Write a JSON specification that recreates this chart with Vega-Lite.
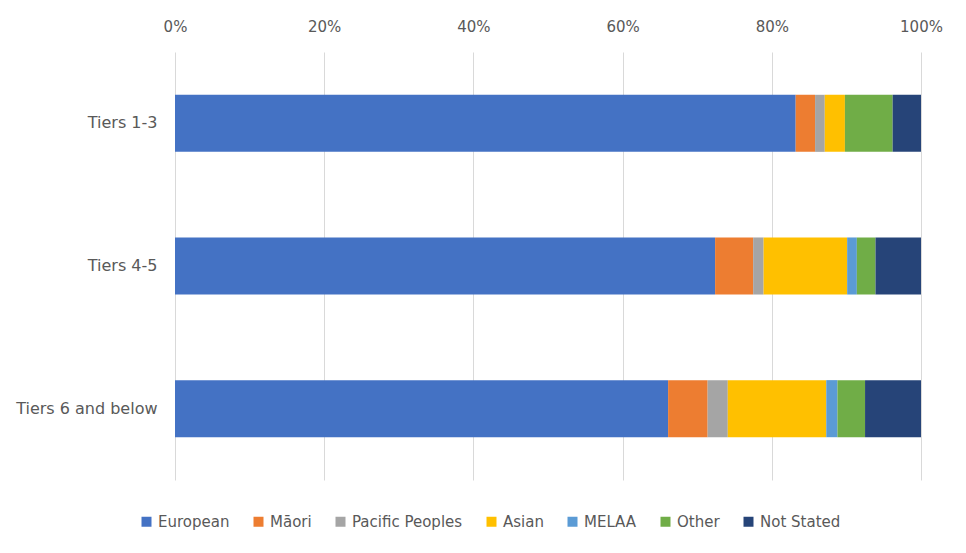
{
  "$schema": "https://vega.github.io/schema/vega-lite/v6.json",
  "autosize": {"type": "none"},
  "width": 746,
  "height": 428,
  "padding": {"left": 175, "top": 52, "right": 45, "bottom": 73},
  "background": "white",
  "data": {"values": [
    {"tier": "Tiers 1-3", "group": "European", "order": 1, "pct": 83.2},
    {"tier": "Tiers 1-3", "group": "Māori", "order": 2, "pct": 2.6},
    {"tier": "Tiers 1-3", "group": "Pacific Peoples", "order": 3, "pct": 1.3},
    {"tier": "Tiers 1-3", "group": "Asian", "order": 4, "pct": 2.7},
    {"tier": "Tiers 1-3", "group": "MELAA", "order": 5, "pct": 0.0},
    {"tier": "Tiers 1-3", "group": "Other", "order": 6, "pct": 6.4},
    {"tier": "Tiers 1-3", "group": "Not Stated", "order": 7, "pct": 3.8},
    {"tier": "Tiers 4-5", "group": "European", "order": 1, "pct": 72.4},
    {"tier": "Tiers 4-5", "group": "Māori", "order": 2, "pct": 5.1},
    {"tier": "Tiers 4-5", "group": "Pacific Peoples", "order": 3, "pct": 1.4},
    {"tier": "Tiers 4-5", "group": "Asian", "order": 4, "pct": 11.2},
    {"tier": "Tiers 4-5", "group": "MELAA", "order": 5, "pct": 1.3},
    {"tier": "Tiers 4-5", "group": "Other", "order": 6, "pct": 2.5},
    {"tier": "Tiers 4-5", "group": "Not Stated", "order": 7, "pct": 6.1},
    {"tier": "Tiers 6 and below", "group": "European", "order": 1, "pct": 66.1},
    {"tier": "Tiers 6 and below", "group": "Māori", "order": 2, "pct": 5.3},
    {"tier": "Tiers 6 and below", "group": "Pacific Peoples", "order": 3, "pct": 2.7},
    {"tier": "Tiers 6 and below", "group": "Asian", "order": 4, "pct": 13.2},
    {"tier": "Tiers 6 and below", "group": "MELAA", "order": 5, "pct": 1.5},
    {"tier": "Tiers 6 and below", "group": "Other", "order": 6, "pct": 3.7},
    {"tier": "Tiers 6 and below", "group": "Not Stated", "order": 7, "pct": 7.5}
  ]},
  "mark": {"type": "bar"},
  "encoding": {
    "y": {
      "field": "tier", "type": "nominal", "sort": ["Tiers 1-3", "Tiers 4-5", "Tiers 6 and below"],
      "scale": {"paddingInner": 0.6, "paddingOuter": 0.3},
      "axis": {"title": null, "ticks": false, "domain": false, "labelPadding": 18, "labelFontSize": 16, "labelColor": "#595959", "labelFont": "DejaVu Sans", "labelFontWeight": "normal"}
    },
    "x": {
      "field": "pct", "type": "quantitative", "stack": "normalize",
      "scale": {"domain": [0, 1], "nice": false},
      "axis": {"orient": "top", "title": null, "format": ".0%", "values": [0, 0.2, 0.4, 0.6, 0.8, 1.0], "ticks": false, "domain": false, "labelFlush": false, "labelPadding": 18, "labelFontSize": 15, "labelColor": "#595959", "labelFont": "DejaVu Sans", "gridColor": "#D9D9D9", "gridWidth": 1}
    },
    "color": {
      "field": "group", "type": "nominal",
      "scale": {
        "domain": ["European", "Māori", "Pacific Peoples", "Asian", "MELAA", "Other", "Not Stated"],
        "range": ["#4472C4", "#ED7D31", "#A5A5A5", "#FFC000", "#5B9BD5", "#70AD47", "#264478"]
      },
      "legend": {
        "title": null, "orient": "none", "direction": "horizontal", "legendX": -36, "legendY": 462,
        "symbolType": "square", "symbolSize": 100, "symbolStrokeWidth": 0,
        "labelFontSize": 15, "labelColor": "#595959", "labelFont": "DejaVu Sans",
        "columnPadding": 21, "labelOffset": 4
      }
    },
    "order": {"field": "order", "type": "quantitative"}
  },
  "config": {"view": {"stroke": null}}
}
